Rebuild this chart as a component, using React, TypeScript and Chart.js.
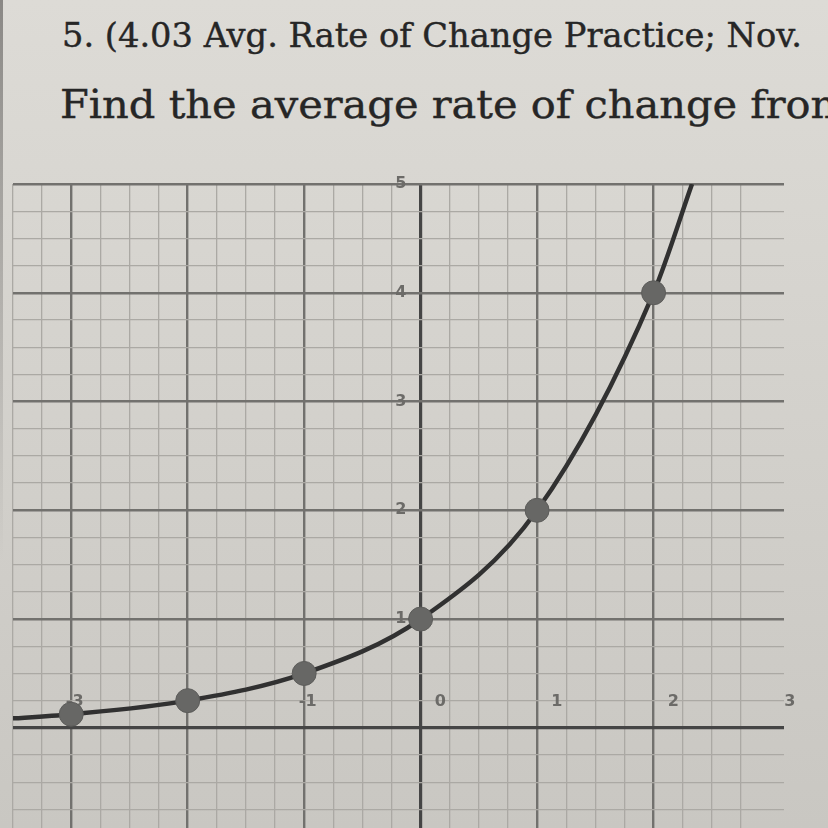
import React, { useEffect, useLayoutEffect, useRef } from "react";
import { Chart, registerables } from "chart.js";

Chart.register(...registerables);

// Data
const pointX = [-3, -2, -1, 0, 1, 2];
const pointY = [0.125, 0.25, 0.5, 1, 2, 4];
const curveX = [-3.6, -3, -2, -1, 0, 1, 2, 2.33];
const curveY = [0.08, 0.125, 0.25, 0.5, 1, 2, 4, 5];
const xTickValues = [-3, -2, -1, 0, 1, 2, 3];
const xTickLabels = ["-3", "-2", "-1", "0", "1", "2", "3"];
const yTickValues = [1, 2, 3, 4, 5];
const yTickLabels = ["1", "2", "3", "4", "5"];
const titleLine1 = "5. (4.03 Avg. Rate of Change Practice; Nov.";
const titleLine2 = "Find the average rate of change from";

const quarterOnly = (scale: any) => {
  scale.ticks = scale.ticks.filter(
    (t: any) => Math.abs(t.value * 4 - Math.round(t.value * 4)) < 1e-6
  );
};

const gridColor = (ctx: any) => {
  const v = ctx.tick ? ctx.tick.value : 0.5;
  if (Math.abs(v) < 1e-9) return "#454545";
  if (Math.abs(v - Math.round(v)) < 1e-9) return "#72716e";
  return "#aba9a4";
};
const gridWidth = (ctx: any) => {
  const v = ctx.tick ? ctx.tick.value : 0.5;
  if (Math.abs(v) < 1e-9) return 3.2;
  if (Math.abs(v - Math.round(v)) < 1e-9) return 2.4;
  return 1.3;
};

const axisLabels = {
  id: "axisLabels",
  beforeDatasetsDraw(chart: any) {
    const { ctx, scales } = chart;
    const xs = scales.x;
    const ys = scales.y;
    ctx.save();
    ctx.fillStyle = "#6c6b68";
    ctx.font = "bold 16px 'DejaVu Sans'";
    ctx.textAlign = "center";
    ctx.textBaseline = "middle";
    xTickValues.forEach((v, i) => {
      const px = xs.getPixelForValue(v + (v >= 0 ? 0.17 : 0.03));
      const py = ys.getPixelForValue(0.24);
      ctx.fillText(xTickLabels[i], px, py);
    });
    yTickValues.forEach((v, i) => {
      const px = xs.getPixelForValue(-0.17);
      const py = ys.getPixelForValue(v);
      ctx.fillText(yTickLabels[i], px, py);
    });
    ctx.restore();
  },
};

function FitText({ text, left, top, width, size }: any) {
  const ref = useRef<HTMLSpanElement>(null);
  useLayoutEffect(() => {
    const el = ref.current;
    if (!el) return;
    el.style.transform = "none";
    const w = el.getBoundingClientRect().width;
    if (w > 0) el.style.transform = `scaleX(${width / w})`;
  }, [text, width]);
  return (
    <span
      ref={ref}
      style={{
        position: "absolute",
        left,
        top,
        whiteSpace: "nowrap",
        fontFamily: "'DejaVu Serif', serif",
        fontSize: size,
        color: "#262626",
        transformOrigin: "0 0",
        lineHeight: 1,
        WebkitTextStroke: "0.4px #262626",
      }}
    >
      {text}
    </span>
  );
}

export default function App() {
  const canvasRef = useRef<HTMLCanvasElement>(null);

  useEffect(() => {
    const canvas = canvasRef.current;
    if (!canvas) return;
    const chart = new Chart(canvas, {
      type: "scatter",
      data: {
        datasets: [
          {
            type: "line",
            data: curveX.map((x, i) => ({ x, y: curveY[i] })),
            borderColor: "#313131",
            borderWidth: 4.5,
            pointRadius: 0,
            cubicInterpolationMode: "monotone",
            fill: false,
            order: 2,
          } as any,
          {
            type: "scatter",
            data: pointX.map((x, i) => ({ x, y: pointY[i] })),
            backgroundColor: "#676765",
            borderColor: "#5c5c5a",
            borderWidth: 1,
            pointRadius: 12,
            order: 1,
          },
        ],
      },
      options: {
        responsive: false,
        animation: false,
        events: [],
        layout: { padding: { left: 12, right: 44, top: 184, bottom: 0 } },
        plugins: { legend: { display: false }, tooltip: { enabled: false } },
        scales: {
          x: {
            type: "linear",
            min: -3.5,
            max: 3.12,
            ticks: { stepSize: 0.25, display: false, padding: 0 },
            afterBuildTicks: quarterOnly,
            afterFit: (s: any) => {
              s.height = 0;
            },
            grid: { color: gridColor, lineWidth: gridWidth, drawTicks: false },
            border: { display: false },
          },
          y: {
            type: "linear",
            min: -0.93,
            max: 5,
            ticks: { stepSize: 0.25, display: false, padding: 0 },
            afterBuildTicks: quarterOnly,
            afterFit: (s: any) => {
              s.width = 0;
            },
            grid: { color: gridColor, lineWidth: gridWidth, drawTicks: false },
            border: { display: false },
          },
        },
      },
      plugins: [axisLabels],
    });
    return () => chart.destroy();
  }, []);

  return (
    <div
      style={{
        position: "fixed",
        left: 0,
        top: 0,
        width: 828,
        height: 828,
        overflow: "hidden",
        background: "linear-gradient(180deg, #dddbd6 0%, #d4d2cd 45%, #c9c7c2 100%)",
      }}
    >
      <div
        style={{
          position: "absolute",
          left: 0,
          top: 0,
          width: 3,
          height: 560,
          background: "linear-gradient(180deg, #8a8885, rgba(140,138,135,0))",
        }}
      />
      <FitText text={titleLine1} left={62} top={19} width={740} size={33} />
      <FitText text={titleLine2} left={60} top={84} width={790} size={40} />
      <canvas
        ref={canvasRef}
        width={828}
        height={842}
        style={{ position: "absolute", left: 0, top: 0, width: 828, height: 842 }}
      />
    </div>
  );
}
